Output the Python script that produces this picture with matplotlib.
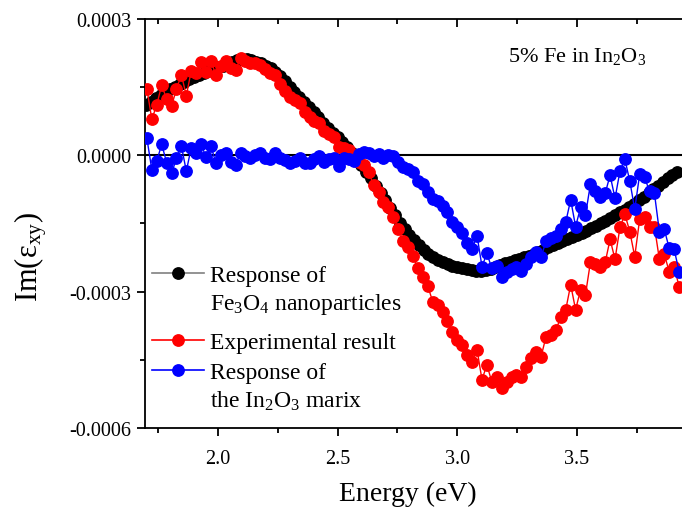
import numpy as np
import matplotlib
matplotlib.use('Agg')
import matplotlib.pyplot as plt
from matplotlib.lines import Line2D
from matplotlib.ticker import MultipleLocator

plt.rcParams['font.family'] = ['Liberation Serif', 'DejaVu Serif']
plt.rcParams['mathtext.fontset'] = 'custom'
plt.rcParams['mathtext.rm'] = 'Liberation Serif'
plt.rcParams['mathtext.it'] = 'Liberation Serif:italic'

# Fe3O4 nanoparticles response (units of 1e-4), E = 1.70 ... 3.92 step 0.02
e_fe3o4 = np.round(np.arange(1.70, 3.921, 0.02), 2)
v_fe3o4 = [1.10, 1.18, 1.25, 1.33, 1.39, 1.45, 1.51, 1.57, 1.62, 1.67,
           1.72, 1.77, 1.82, 1.86, 1.90, 1.94, 1.97, 2.02, 2.06, 2.10,
           2.12, 2.11, 2.09, 2.06, 2.02, 1.96, 1.91, 1.84, 1.75, 1.64,
           1.51, 1.40, 1.29, 1.17, 1.06, 0.95, 0.84, 0.72, 0.61, 0.50,
           0.40, 0.29, 0.18, 0.06, -0.08, -0.22, -0.36, -0.51, -0.67, -0.83,
           -0.99, -1.16, -1.32, -1.49, -1.62, -1.75, -1.87, -1.98, -2.08, -2.17,
           -2.25, -2.31, -2.36, -2.40, -2.43, -2.46, -2.49, -2.51, -2.53, -2.55,
           -2.55, -2.53, -2.50, -2.46, -2.42, -2.38, -2.34, -2.31, -2.28, -2.25,
           -2.22, -2.18, -2.13, -2.08, -2.03, -1.98, -1.93, -1.88, -1.84, -1.80,
           -1.75, -1.71, -1.66, -1.61, -1.56, -1.50, -1.45, -1.39, -1.32, -1.26,
           -1.20, -1.14, -1.07, -0.99, -0.91, -0.83, -0.75, -0.67, -0.58, -0.50,
           -0.43, -0.37]

# measured points (units of 1e-4), E = 1.703 + 0.0206*i
e_meas = 1.703 + 0.0206 * np.arange(109)
v_exp = [1.46, 0.79, 1.11, 1.54, 1.24, 1.08, 1.46, 1.77, 1.31, 1.86,
         1.82, 2.06, 1.84, 2.08, 1.76, 1.97, 2.08, 1.93, 1.88, 2.13,
         2.08, 2.04, 2.02, 1.99, 1.90, 1.81, 1.76, 1.57, 1.42, 1.29,
         1.22, 1.15, 0.95, 0.84, 0.76, 0.72, 0.53, 0.46, 0.40, 0.18,
         0.17, 0.12, -0.02, -0.14, -0.22, -0.36, -0.66, -0.82, -1.02, -1.15,
         -1.35, -1.62, -1.88, -2.03, -2.22, -2.48, -2.68, -2.88, -3.22, -3.29,
         -3.46, -3.65, -3.88, -4.06, -4.17, -4.39, -4.54, -4.28, -4.94, -4.61,
         -4.99, -4.88, -5.12, -4.99, -4.88, -4.83, -4.88, -4.65, -4.46, -4.32,
         -4.43, -3.99, -3.95, -3.84, -3.57, -3.40, -2.85, -3.40, -2.96, -3.07,
         -2.36, -2.40, -2.47, -2.36, -1.85, -2.29, -1.59, -1.30, -1.68, -2.23,
         -1.41, -1.37, -1.59, -1.57, -2.29, -2.18, -2.56, -2.45, -2.89]
v_in2o3 = [0.37, -0.32, -0.13, 0.24, -0.16, -0.40, -0.07, 0.20, -0.35, 0.17,
           0.06, 0.24, -0.04, 0.21, -0.18, 0.01, 0.04, -0.15, -0.22, 0.06,
           -0.01, -0.05, 0.00, 0.04, -0.05, -0.09, 0.04, -0.05, -0.10, -0.16,
           -0.13, -0.05, -0.18, -0.18, -0.09, -0.01, -0.14, -0.09, -0.05, -0.24,
           -0.05, -0.08, -0.13, 0.03, 0.07, 0.06, -0.02, 0.03, -0.06, 0.01,
           -0.01, -0.14, -0.25, -0.30, -0.38, -0.57, -0.64, -0.80, -0.97, -1.01,
           -1.12, -1.25, -1.47, -1.59, -1.72, -1.93, -2.07, -1.77, -2.45, -2.16,
           -2.49, -2.43, -2.69, -2.58, -2.51, -2.47, -2.54, -2.40, -2.25, -2.12,
           -2.25, -1.88, -1.83, -1.77, -1.63, -1.47, -0.98, -1.57, -1.15, -1.32,
           -0.64, -0.79, -0.93, -0.84, -0.44, -0.95, -0.35, -0.09, -0.57, -1.19,
           -0.42, -0.49, -0.79, -0.84, -1.68, -1.63, -2.05, -2.07, -2.56]

yticks = [0.0003, 0.0, -0.0003, -0.0006]
ylabels = ['0.0003', '0.0000', '-0.0003', '-0.0006']
xticks = [2.0, 2.5, 3.0, 3.5]
xlabels = ['2.0', '2.5', '3.0', '3.5']

fig = plt.figure(figsize=(6.82, 5.10), dpi=100)
ax = fig.add_axes([0.2126, 0.159, 0.7874, 0.802])

ms = 8.2
ax.axhline(0, color='black', lw=1.5, zorder=1)
ax.plot(e_fe3o4, np.array(v_fe3o4) * 1e-4, color='#808080', lw=1, marker='o',
        ms=ms, mfc='black', mec='black', zorder=2)
ax.plot(e_meas, np.array(v_exp) * 1e-4, color='red', lw=1, marker='o',
        ms=ms, mfc='red', mec='red', zorder=3)
ax.plot(e_meas, np.array(v_in2o3) * 1e-4, color='blue', lw=1, marker='o',
        ms=ms, mfc='blue', mec='blue', zorder=4)

ax.set_xlim(1.695, 3.94)
ax.set_ylim(-0.0006, 0.0003)
ax.set_xticks(xticks)
ax.set_xticklabels(xlabels)
ax.set_yticks(yticks)
ax.set_yticklabels(ylabels)
ax.xaxis.set_minor_locator(MultipleLocator(0.25))
ax.yaxis.set_minor_locator(MultipleLocator(0.00015))
ax.spines['right'].set_visible(False)
for s in ['left', 'bottom', 'top']:
    ax.spines[s].set_linewidth(1.3)
ax.tick_params(axis='both', which='major', labelsize=14.5, width=1.3, length=6)
ax.tick_params(axis='both', which='minor', width=1.3, length=3.5)
ax.tick_params(axis='x', which='major', pad=9)
ax.tick_params(axis='y', which='major', pad=4)
ax.tick_params(axis='x', which='both', top=True, direction='out')
ax.tick_params(axis='y', which='both', right=False, direction='out')
# top mirrored ticks point inward
for t in ax.xaxis.get_major_ticks() + ax.xaxis.get_minor_ticks():
    t.tick2line.set_marker(3)

ax.set_xlabel('Energy (eV)', fontsize=20)
ax.set_ylabel('Im(ε$_\\mathrm{xy}$)', fontsize=22)
ax.xaxis.set_label_coords(0.49, -0.13)
ax.yaxis.set_label_coords(-0.178, 0.42)

ax.text(0.805, 0.91, '5% Fe in In$_2$O$_3$', transform=ax.transAxes,
        fontsize=16, ha='center', va='center')

blank = Line2D([], [], linestyle='none')
h_fe = Line2D([], [], color='#808080', lw=1.2, marker='o', ms=ms, mfc='black', mec='black')
h_exp = Line2D([], [], color='red', lw=1.2, marker='o', ms=ms, mfc='red', mec='red')
h_in = Line2D([], [], color='blue', lw=1.2, marker='o', ms=ms, mfc='blue', mec='blue')
leg_style = dict(frameon=False, fontsize=17, handlelength=2.2, handletextpad=0.25,
                 borderpad=0.0, borderaxespad=0.0, loc='upper left')
leg1 = ax.legend([h_fe, blank], ['Response of', 'Fe$_3$O$_4$ nanoparticles'],
                 bbox_to_anchor=(0.013, 0.400), labelspacing=0.22, **leg_style)
ax.add_artist(leg1)
leg2 = ax.legend([h_exp], ['Experimental result'],
                 bbox_to_anchor=(0.013, 0.235), **leg_style)
ax.add_artist(leg2)
ax.legend([h_in, blank], ['Response of', 'the In$_2$O$_3$ marix'],
          bbox_to_anchor=(0.013, 0.162), labelspacing=0.25, **leg_style)

fig.savefig('out.png', dpi=100)
